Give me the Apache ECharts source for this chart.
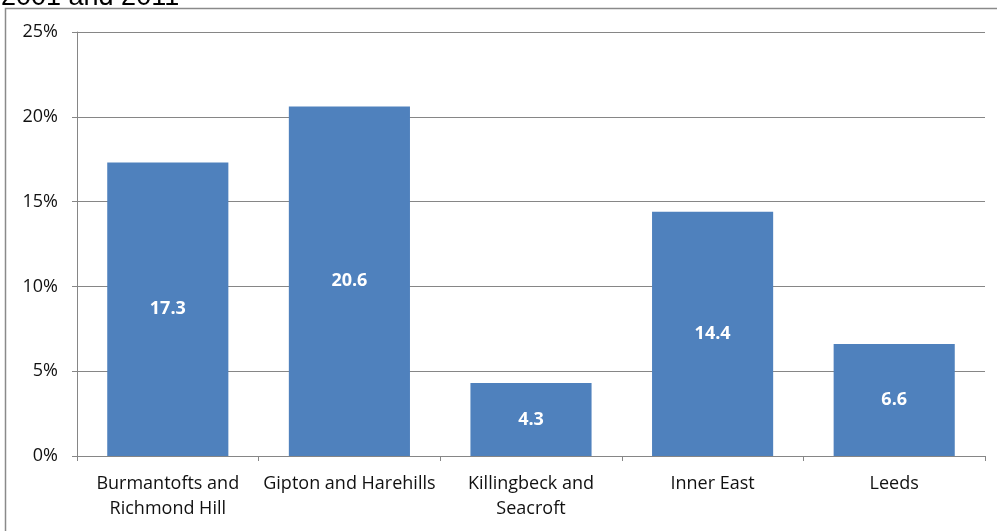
<!DOCTYPE html>
<html><head><meta charset="utf-8">
<script src="https://cdn.jsdelivr.net/npm/echarts@6/dist/echarts.min.js"></script>
<style>html,body{margin:0;padding:0;background:#fff}#c{width:997px;height:531px}</style>
</head><body><div id="c"></div>
<script>
const categories = ['Burmantofts and\nRichmond Hill', 'Gipton and Harehills', 'Killingbeck and\nSeacroft', 'Inner East', 'Leeds'];
const values = [17.3, 20.6, 4.3, 14.4, 6.6];
const titleText = '2001 and 2011';
const FONT = '"Open Sans", sans-serif';

const chart = echarts.init(document.getElementById('c'));
chart.setOption({
  animation: false,
  graphic: [
    { type: 'rect', shape: { x: 5.5, y: 8.5, width: 1100, height: 600 }, style: { fill: 'none', stroke: '#8a8a8a', lineWidth: 1.5 }, silent: true },
    { type: 'text', left: 1, top: -16, style: { text: titleText, font: '27px Arial, "Liberation Sans", sans-serif', fill: '#000' } }
  ],
  grid: { left: 77, right: 12, top: 32, bottom: 75, containLabel: false },
  xAxis: {
    type: 'category', data: categories,
    axisLine: { lineStyle: { color: '#868686', width: 1 } },
    axisTick: { show: true, length: 5, alignWithLabel: false, lineStyle: { color: '#868686' } },
    axisLabel: { color: '#111', fontSize: 18, fontFamily: FONT, lineHeight: 25, margin: 15, interval: 0 }
  },
  yAxis: {
    type: 'value', min: 0, max: 25, interval: 5,
    axisLine: { show: true, lineStyle: { color: '#868686', width: 1 } },
    axisTick: { show: true, length: 5, lineStyle: { color: '#868686' } },
    splitLine: { lineStyle: { color: '#868686', width: 1 } },
    axisLabel: { formatter: '{value}%', color: '#111', fontSize: 18, fontFamily: FONT, margin: 19 }
  },
  series: [{
    type: 'bar', data: values, barWidth: '66.7%',
    itemStyle: { color: '#4F81BD' },
    label: { show: true, position: 'inside', color: '#fff', fontWeight: 'bold', fontSize: 18, fontFamily: FONT, formatter: p => p.value.toFixed(1) }
  }]
});
</script></body></html>
